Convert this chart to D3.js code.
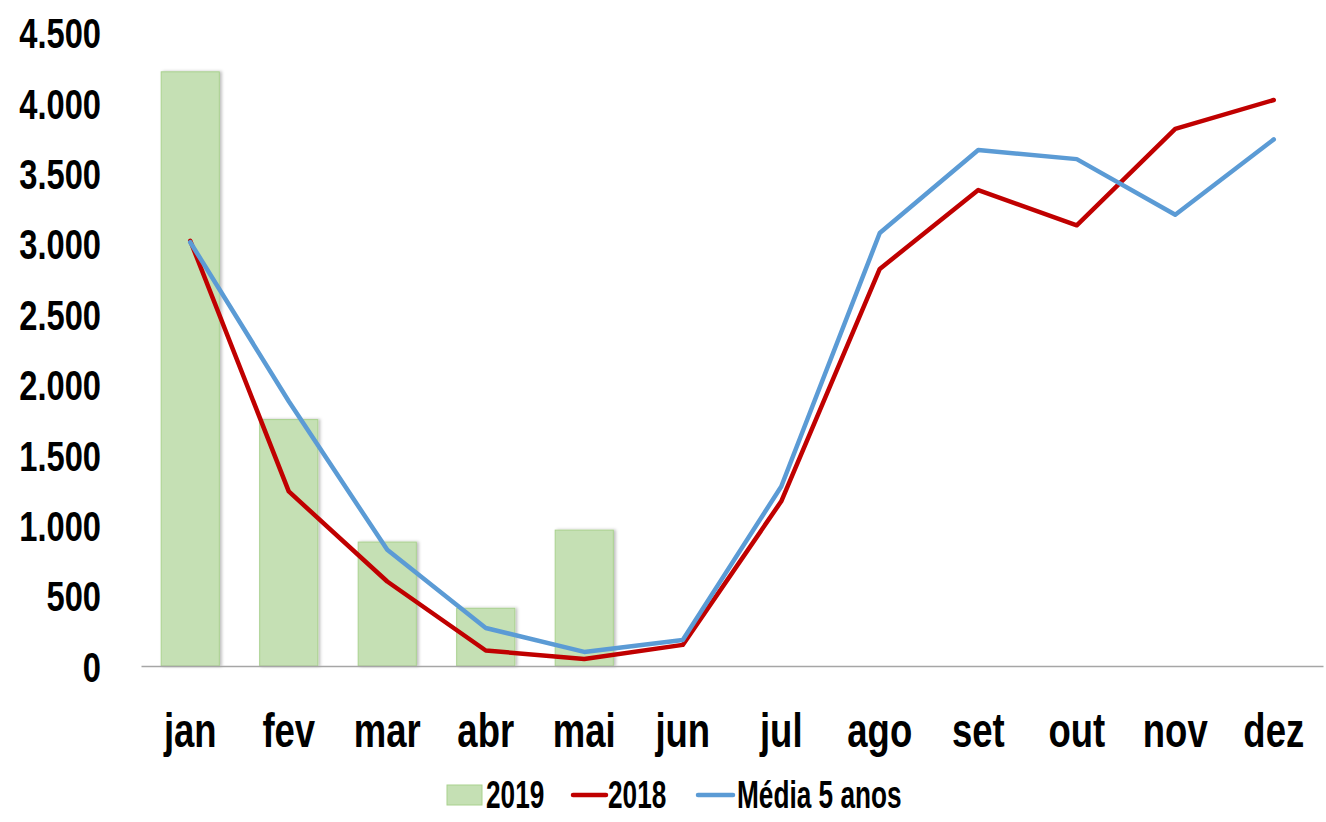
<!DOCTYPE html>
<html>
<head>
<meta charset="utf-8">
<script src="https://cdn.jsdelivr.net/npm/d3@7"></script>
<style>
  body { margin: 0; background: #fff; }
  text { font-family: "Liberation Sans", Arial, sans-serif; font-weight: bold; fill: #000; }
</style>
</head>
<body>
<div id="chart"></div>
<script>
// data
var months = ['jan', 'fev', 'mar', 'abr', 'mai', 'jun', 'jul', 'ago', 'set', 'out', 'nov', 'dez'];
var values2019 = [4220, 1750, 880, 410, 965];
var values2018 = [3020, 1240, 600, 110, 50, 150, 1170, 2820, 3380, 3130, 3815, 4020];
var valuesMedia = [3010, 1880, 825, 270, 100, 185, 1275, 3075, 3665, 3600, 3205, 3740];
var yTicks = [0, 500, 1000, 1500, 2000, 2500, 3000, 3500, 4000, 4500];
var legendLabels = ['2019', '2018', 'Média 5 anos'];

var width = 1326, height = 822;

var svg = d3.select('#chart').append('svg')
    .attr('width', width)
    .attr('height', height);

// bar shadow
var defs = svg.append('defs');
defs.append('filter')
    .attr('id', 'shadow')
    .attr('x', '-20%').attr('y', '-5%')
    .attr('width', '140%').attr('height', '110%')
  .append('feDropShadow')
    .attr('dx', 2).attr('dy', 0)
    .attr('stdDeviation', 1.5)
    .attr('flood-color', '#000')
    .attr('flood-opacity', 0.25);

var x = d3.scaleBand()
    .domain(months)
    .range([141, 1323])
    .padding(0);

var y = d3.scaleLinear()
    .domain([0, 4500])
    .range([666, 32.4]);

var barW = x.bandwidth() * 0.59;

// y tick labels (no axis line)
var yAxis = svg.append('g')
    .attr('transform', 'translate(101,0)')
    .call(d3.axisLeft(y)
      .tickValues(yTicks)
      .tickSize(0)
      .tickPadding(0)
      .tickFormat(function(d) { return d3.format(',')(d).replace(/,/g, '.'); }));
yAxis.select('.domain').remove();
yAxis.selectAll('text')
    .attr('dy', null)
    .attr('dominant-baseline', 'central')
    .attr('transform', 'scale(0.76,1)')
    .style('font-size', '43px')
    .style('font-family', null)
    .attr('fill', '#000');

// bars
svg.append('g').selectAll('rect')
    .data(values2019)
  .enter().append('rect')
    .attr('x', function(d, i) { return x(months[i]) + (x.bandwidth() - barW) / 2; })
    .attr('y', function(d) { return y(d); })
    .attr('width', barW)
    .attr('height', function(d) { return y(0) - y(d); })
    .attr('fill', '#c5e0b4')
    .attr('stroke', '#a9d18e')
    .attr('stroke-width', 1)
    .attr('filter', 'url(#shadow)');

// x axis
var xAxis = svg.append('g')
    .attr('transform', 'translate(0,' + y(0) + ')')
    .call(d3.axisBottom(x).tickSize(0).tickPadding(0));
xAxis.select('.domain')
    .attr('stroke', '#a6a6a6')
    .attr('stroke-width', 1.5);
xAxis.selectAll('text')
    .attr('y', 81)
    .attr('dy', null)
    .attr('transform', 'scale(0.76,1)')
    .style('font-size', '48px')
    .style('font-family', null)
    .attr('fill', '#000');

// lines
var line = d3.line()
    .x(function(d, i) { return x(months[i]) + x.bandwidth() / 2; })
    .y(function(d) { return y(d); });

svg.append('path')
    .datum(values2018)
    .attr('d', line)
    .attr('fill', 'none')
    .attr('stroke', '#c00000')
    .attr('stroke-width', 4.5)
    .attr('stroke-linejoin', 'round')
    .attr('stroke-linecap', 'round');

svg.append('path')
    .datum(valuesMedia)
    .attr('d', line)
    .attr('fill', 'none')
    .attr('stroke', '#5b9bd5')
    .attr('stroke-width', 4.5)
    .attr('stroke-linejoin', 'round')
    .attr('stroke-linecap', 'round');

// legend
var legend = svg.append('g');
var legendY = 795;

legend.append('rect')
    .attr('x', 447).attr('y', legendY - 10)
    .attr('width', 35).attr('height', 20)
    .attr('fill', '#c5e0b4')
    .attr('stroke', '#a9d18e');

legend.append('line')
    .attr('x1', 573).attr('x2', 606)
    .attr('y1', legendY).attr('y2', legendY)
    .attr('stroke', '#c00000').attr('stroke-width', 4.5)
    .attr('stroke-linecap', 'round');

legend.append('line')
    .attr('x1', 698).attr('x2', 733)
    .attr('y1', legendY).attr('y2', legendY)
    .attr('stroke', '#5b9bd5').attr('stroke-width', 4.5)
    .attr('stroke-linecap', 'round');

var legendX = [486, 608, 737];
legend.selectAll('text.lbl')
    .data(legendLabels)
  .enter().append('text')
    .attr('class', 'lbl')
    .attr('transform', function(d, i) { return 'translate(' + legendX[i] + ',808) scale(0.69,1)'; })
    .style('font-size', '38px')
    .text(function(d) { return d; });
</script>
</body>
</html>
